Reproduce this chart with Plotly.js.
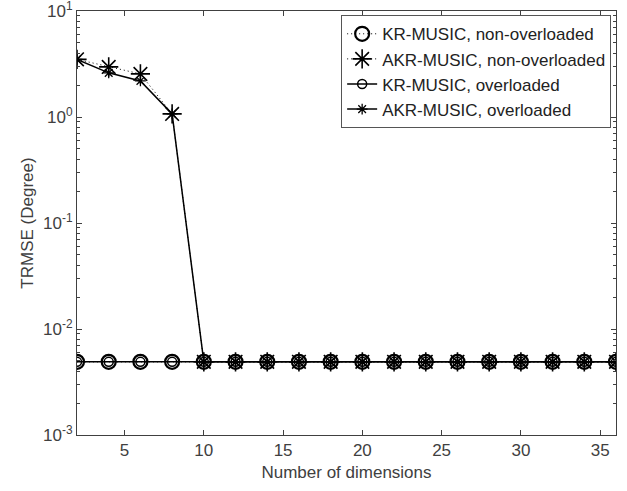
<!DOCTYPE html>
<html><head><meta charset="utf-8">
<script src="https://cdn.plot.ly/plotly-3.0.1.min.js"></script>
<style>html,body{margin:0;padding:0;background:#fff}</style>
</head><body><div id="chart" style="width:627px;height:491px"></div>
<script>
const dims = [2,4,6,8,10,12,14,16,18,20,22,24,26,28,30,32,34,36];
const krNon   = [0.0049,0.0049,0.0049,0.0049,0.0049,0.0049,0.0049,0.0049,0.0049,0.0049,0.0049,0.0049,0.0049,0.0049,0.0049,0.0049,0.0049,0.0049];
const akrNon  = [3.5,2.97,2.55,1.07,0.0049,0.0049,0.0049,0.0049,0.0049,0.0049,0.0049,0.0049,0.0049,0.0049,0.0049,0.0049,0.0049,0.0049];
const krOver  = [0.0049,0.0049,0.0049,0.0049,0.0049,0.0049,0.0049,0.0049,0.0049,0.0049,0.0049,0.0049,0.0049,0.0049,0.0049,0.0049,0.0049,0.0049];
const akrOver = [3.5,2.61,2.19,1.07,0.0049,0.0049,0.0049,0.0049,0.0049,0.0049,0.0049,0.0049,0.0049,0.0049,0.0049,0.0049,0.0049,0.0049];
const names = ['KR-MUSIC, non-overloaded','AKR-MUSIC, non-overloaded','KR-MUSIC, overloaded','AKR-MUSIC, overloaded'];
const xTicks = [5,10,15,20,25,30,35];
const yTicks = [0.001,0.01,0.1,1,10];
const yTickText = ['10<sup>-3</sup>','10<sup>-2</sup>','10<sup>-1</sup>','10<sup>0</sup>','10<sup>1</sup>'];

// minor tick positions of the log axis (2..9 of each decade)
const yMinor = [];
for (let d = -3; d < 1; d++) for (let k = 2; k <= 9; k++) yMinor.push(k * Math.pow(10, d));

const traces = [
  {x:dims,y:krNon,name:names[0],mode:'lines+markers',
   line:{color:'#000',width:1,dash:'1px,3px'},
   marker:{symbol:'circle-open',size:14,color:'#000',line:{width:2.2,color:'#000'}}},
  {x:dims,y:akrNon,name:names[1],mode:'lines+markers',
   line:{color:'#000',width:1,dash:'1px,3px'},
   marker:{symbol:'asterisk-open',size:16,color:'#000',line:{width:1.6,color:'#000'}}},
  {x:dims,y:krOver,name:names[2],mode:'lines+markers',
   line:{color:'#000',width:1.5},
   marker:{symbol:'circle-open',size:9,color:'#000',line:{width:1.5,color:'#000'}}},
  {x:dims,y:akrOver,name:names[3],mode:'lines+markers',
   line:{color:'#000',width:1.5},
   marker:{symbol:'asterisk-open',size:9,color:'#000',line:{width:1.3,color:'#000'}}}
];

const axcol = '#404040';
const layout = {
  width:627,height:491,
  margin:{l:77,r:11,t:11,b:56},
  paper_bgcolor:'#fff',plot_bgcolor:'#fff',
  font:{family:'Liberation Sans, Arial, sans-serif',size:17,color:axcol},
  showlegend:true,
  legend:{x:0.991,y:0.99,xanchor:'right',yanchor:'top',bgcolor:'#fff',
          bordercolor:'#555',borderwidth:1,font:{size:17,color:'#222'},
          tracegroupgap:0},
  xaxis:{range:[2,36],tickvals:xTicks,ticks:'inside',ticklen:5,
         showline:true,linecolor:axcol,linewidth:1,mirror:'ticks',tickcolor:axcol,
         showgrid:false,zeroline:false,tickfont:{size:17},
         title:{text:'Number of dimensions',font:{size:17,color:axcol},standoff:6}},
  yaxis:{type:'log',range:[-3,1.0002],tickvals:yTicks,ticktext:yTickText,ticks:'inside',ticklen:5,
         ticklabeloverflow:'allow',
         showline:true,linecolor:axcol,linewidth:1,mirror:'ticks',tickcolor:axcol,
         showgrid:false,zeroline:false,tickfont:{size:17},
         minor:{tickvals:yMinor,ticks:'inside',ticklen:3,tickcolor:axcol,showgrid:false},
         title:{text:'TRMSE (Degree)',font:{size:17,color:axcol},standoff:5}}
};
Plotly.newPlot('chart',traces,layout,{displayModeBar:false,staticPlot:true});
</script></body></html>
